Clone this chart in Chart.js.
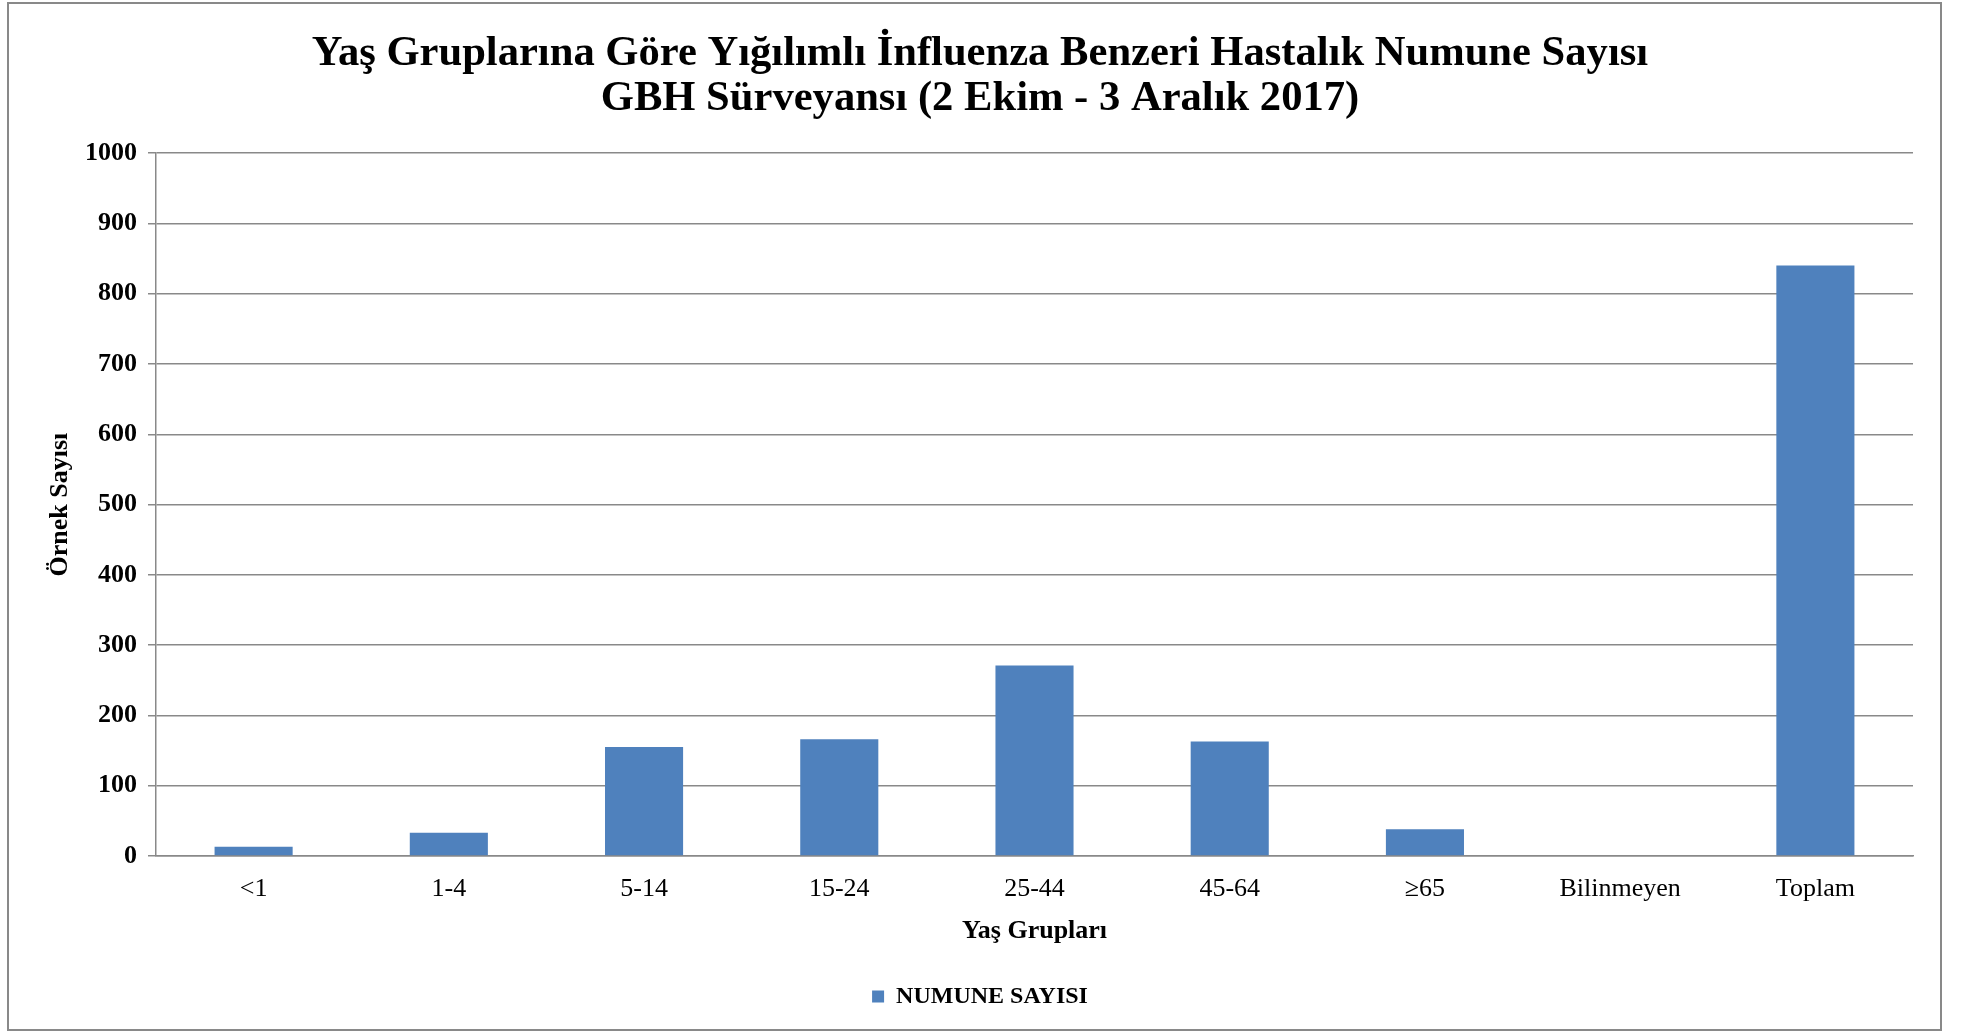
<!DOCTYPE html>
<html>
<head>
<meta charset="utf-8">
<script src="https://cdn.jsdelivr.net/npm/chart.js@4.4.1/dist/chart.umd.min.js"></script>
<style>
    html, body { margin: 0; padding: 0; background: #fff; }
    #wrap { position: relative; width: 1966px; height: 1033px; }
</style>
</head>
<body>
<div id="wrap"><canvas id="chart" width="1966" height="1033"></canvas></div>
<script>
const titleLines = ['Yaş Gruplarına Göre Yığılımlı İnfluenza Benzeri Hastalık Numune Sayısı', 'GBH Sürveyansı (2 Ekim - 3 Aralık 2017)'];
const ageGroups = ['<1', '1-4', '5-14', '15-24', '25-44', '45-64', '≥65', 'Bilinmeyen', 'Toplam'];
const sampleCounts = [13, 33, 155, 166, 271, 163, 38, 1, 840];
const seriesName = 'NUMUNE SAYISI';
const xTitle = 'Yaş Grupları';
const yTitle = 'Örnek Sayısı';
const yMin = 0;
const yMax = 1000;
const yStep = 100;

const serif = '"Liberation Serif", "Times New Roman", serif';
const lineGray = '#898989';

// outer frame like the Excel chart area border
const frame = {
    id: 'frame',
    beforeDraw(chart) {
        const ctx = chart.ctx;
        ctx.save();
        ctx.strokeStyle = lineGray;
        ctx.lineWidth = 2;
        ctx.strokeRect(8, 3, 1933, 1027);
        ctx.restore();
    }
};

const ctx = document.getElementById('chart').getContext('2d');
new Chart(ctx, {
    type: 'bar',
    data: {
        labels: ageGroups,
        datasets: [{
            label: seriesName,
            data: sampleCounts,
            backgroundColor: '#4F81BD',
            borderWidth: 0,
            barPercentage: 0.4,
            categoryPercentage: 1.0
        }]
    },
    options: {
        responsive: false,
        animation: false,
        layout: { padding: { top: 31, left: 47, right: 53, bottom: 14.5 } },
        plugins: {
            title: {
                display: true,
                text: titleLines,
                color: '#000',
                font: { family: serif, size: 42.6, weight: 'bold', lineHeight: 1.07 },
                padding: { top: 0, bottom: 31 }
            },
            legend: {
                position: 'bottom',
                labels: {
                    color: '#000',
                    font: { family: serif, size: 24, weight: 'bold' },
                    boxWidth: 12,
                    boxHeight: 12,
                    padding: 10
                }
            },
            tooltip: { enabled: false }
        },
        scales: {
            x: {
                grid: { display: false, drawTicks: false },
                border: { display: true, color: lineGray, width: 1.5 },
                ticks: { color: '#000', font: { family: serif, size: 26 }, padding: 18 },
                title: {
                    display: true,
                    text: xTitle,
                    color: '#000',
                    font: { family: serif, size: 26, weight: 'bold' },
                    padding: { top: 0, bottom: 28 }
                },
                afterFit: (scale) => { scale.height = 118.5; }
            },
            y: {
                min: yMin,
                max: yMax,
                grid: { color: lineGray, lineWidth: 1.5, tickLength: 8 },
                border: { display: true, color: lineGray, width: 1.5 },
                ticks: {
                    stepSize: yStep,
                    color: '#000',
                    font: { family: serif, size: 26, weight: 'bold' },
                    padding: 11,
                    callback: (value) => String(value)
                },
                title: {
                    display: true,
                    text: yTitle,
                    color: '#000',
                    font: { family: serif, size: 26, weight: 'bold' },
                    padding: { top: -2, bottom: 0 }
                },
                afterFit: (scale) => { scale.width = 109; }
            }
        }
    },
    plugins: [frame]
});
</script>
</body>
</html>
